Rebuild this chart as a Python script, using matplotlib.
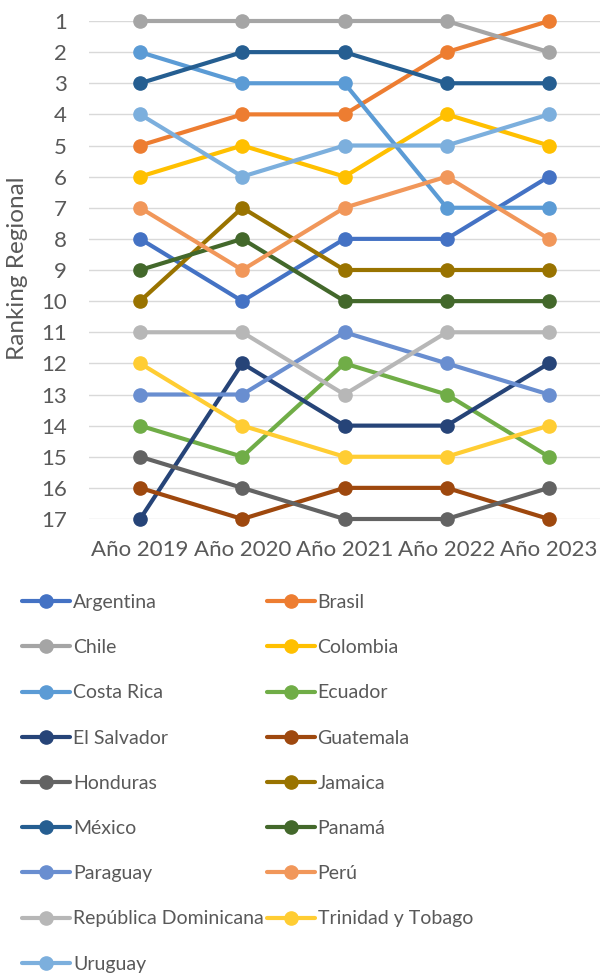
import matplotlib
matplotlib.use("Agg")
import matplotlib.pyplot as plt

years = ["Año 2019", "Año 2020", "Año 2021", "Año 2022", "Año 2023"]
countries = ["Argentina", "Brasil", "Chile", "Colombia", "Costa Rica", "Ecuador",
             "El Salvador", "Guatemala", "Honduras", "Jamaica", "México", "Panamá",
             "Paraguay", "Perú", "República Dominicana", "Trinidad y Tobago", "Uruguay"]
argentina = [8, 10, 8, 8, 6]
brasil = [5, 4, 4, 2, 1]
chile = [1, 1, 1, 1, 2]
colombia = [6, 5, 6, 4, 5]
costa_rica = [2, 3, 3, 7, 7]
ecuador = [14, 15, 12, 13, 15]
el_salvador = [17, 12, 14, 14, 12]
guatemala = [16, 17, 16, 16, 17]
honduras = [15, 16, 17, 17, 16]
jamaica = [10, 7, 9, 9, 9]
mexico = [3, 2, 2, 3, 3]
panama = [9, 8, 10, 10, 10]
paraguay = [13, 13, 11, 12, 13]
peru = [7, 9, 7, 6, 8]
rep_dom = [11, 11, 13, 11, 11]
trinidad = [12, 14, 15, 15, 14]
uruguay = [4, 6, 5, 5, 4]
series = [argentina, brasil, chile, colombia, costa_rica, ecuador, el_salvador,
          guatemala, honduras, jamaica, mexico, panama, paraguay, peru, rep_dom,
          trinidad, uruguay]
colors = ["#4472C4", "#ED7D31", "#A5A5A5", "#FFC000", "#5B9BD5", "#70AD47",
          "#264478", "#9E480E", "#636363", "#997300", "#255E91", "#43682B",
          "#698ED0", "#F1975A", "#B7B7B7", "#FFCD33", "#7CAFDD"]
yticks = list(range(1, 18))

plt.rcParams['font.family'] = ['Lato', 'DejaVu Sans']
W, H = 601, 974
fig = plt.figure(figsize=(W / 100, H / 100), dpi=100)
ax = fig.add_axes([89 / W, 1 - 519 / H, (600 - 89) / W, (519 - 21) / H])

x = list(range(len(years)))
handles = []
for name, vals, c in zip(countries, series, colors):
    h, = ax.plot(x, vals, color=c, lw=3, marker='o', ms=9.5, label=name,
                 clip_on=False, solid_capstyle='round', zorder=3)
    handles.append(h)

ax.set_xlim(-0.5, len(years) - 0.5)
ax.set_ylim(17, 1)
ax.set_yticks(yticks)
ax.set_xticks(x)
ax.set_xticklabels(years)
ax.tick_params(axis='both', length=0, labelsize=16, colors='#595959')
ax.tick_params(axis='y', pad=16)
ax.tick_params(axis='x', pad=15)
ax.grid(axis='y', color='#D9D9D9', lw=1)
ax.set_axisbelow(True)
for s in ax.spines.values():
    s.set_visible(False)
fig.text(18 / W, 1 - 268 / H, "Ranking Regional", rotation=90, ha='center',
         va='center', fontsize=17.5, color='#595959')

# reorder so that a 2-column (column-major) legend reads row by row
order = list(range(0, len(countries), 2)) + list(range(1, len(countries), 2))
leg = fig.legend(handles=[handles[i] for i in order],
                 labels=[countries[i] for i in order], ncol=2, loc='upper left',
                 bbox_to_anchor=(22 / W, 1 - 594 / H), frameon=False,
                 fontsize=14, handlelength=2.47, handletextpad=0.15,
                 columnspacing=0.15, labelspacing=1.45, borderaxespad=0,
                 borderpad=0, alignment='left')
for t in leg.get_texts():
    t.set_color('#595959')

fig.savefig("out.png", dpi=100)
